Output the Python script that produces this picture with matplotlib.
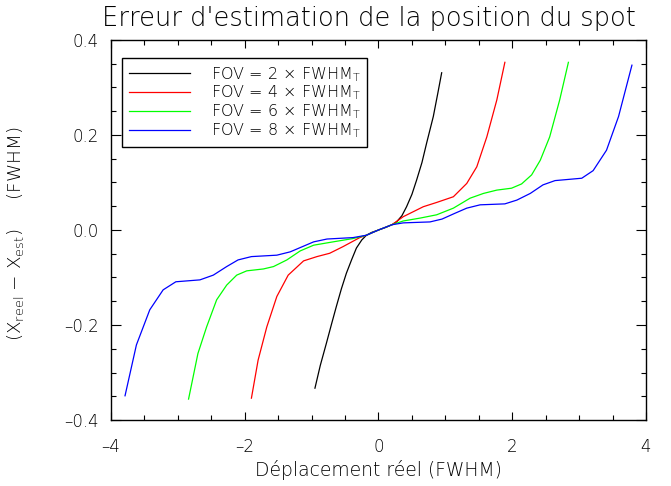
import matplotlib
matplotlib.use("Agg")
from matplotlib import pyplot as plt
from matplotlib.ticker import MultipleLocator, FuncFormatter

plt.rcParams['font.family'] = ['DejaVu Sans']
plt.rcParams['font.weight'] = 'light'
plt.rcParams['axes.labelweight'] = 'light'
plt.rcParams['mathtext.fontset'] = 'custom'
plt.rcParams['mathtext.rm'] = 'DejaVu Sans:light'
plt.rcParams['mathtext.it'] = 'DejaVu Sans:light'
plt.rcParams['mathtext.sf'] = 'DejaVu Sans:light'

# FOV = 2 x FWHM
x_fov2 = [-0.95, -0.87, -0.78, -0.7, -0.63, -0.555, -0.48, -0.4, -0.33, -0.25, -0.18, -0.1, 0.0,
          0.1, 0.2, 0.27, 0.35, 0.42, 0.5, 0.57, 0.65, 0.72, 0.82, 0.89, 0.945]
y_fov2 = [-0.333, -0.285, -0.239, -0.197, -0.161, -0.124, -0.091, -0.062, -0.038, -0.021, -0.011, -0.005, 0.0,
          0.005, 0.011, 0.017, 0.03, 0.049, 0.075, 0.105, 0.142, 0.183, 0.239, 0.29, 0.331]

# FOV = 4 x FWHM
x_fov4 = [-1.9, -1.8, -1.67, -1.52, -1.35, -1.12, -0.92, -0.73, -0.53, -0.28, -0.18, 0.0, 0.2, 0.37,
          0.67, 0.87, 1.12, 1.32, 1.47, 1.62, 1.77, 1.89]
y_fov4 = [-0.354, -0.274, -0.204, -0.14, -0.095, -0.065, -0.056, -0.049, -0.035, -0.016, -0.011, 0.0, 0.011,
          0.028, 0.049, 0.058, 0.07, 0.098, 0.133, 0.196, 0.274, 0.353]

# FOV = 6 x FWHM
x_fov6 = [-2.84, -2.7, -2.57, -2.42, -2.27, -2.12, -1.97, -1.72, -1.57, -1.37, -1.17, -0.97, -0.68, -0.38,
          -0.18, 0.0, 0.2, 0.37, 0.62, 0.87, 1.12, 1.37, 1.57, 1.77, 1.99, 2.14, 2.29, 2.42, 2.56, 2.71, 2.84]
y_fov6 = [-0.356, -0.26, -0.204, -0.147, -0.116, -0.095, -0.086, -0.082, -0.077, -0.063, -0.044, -0.032,
          -0.025, -0.018, -0.011, 0.0, 0.011, 0.019, 0.025, 0.032, 0.046, 0.067, 0.077, 0.084, 0.088, 0.097,
          0.116, 0.147, 0.196, 0.274, 0.353]

# FOV = 8 x FWHM
x_fov8 = [-3.79, -3.62, -3.42, -3.22, -3.03, -2.67, -2.47, -2.27, -2.1, -1.9, -1.52, -1.32, -0.97, -0.77,
          -0.38, -0.18, 0.0, 0.2, 0.37, 0.77, 0.95, 1.14, 1.32, 1.52, 1.89, 2.07, 2.27, 2.46, 2.64, 3.04,
          3.21, 3.41, 3.59, 3.79]
y_fov8 = [-0.349, -0.242, -0.168, -0.126, -0.109, -0.105, -0.095, -0.077, -0.063, -0.056, -0.053, -0.046,
          -0.025, -0.019, -0.016, -0.011, 0.0, 0.011, 0.015, 0.017, 0.023, 0.035, 0.046, 0.053, 0.055, 0.063,
          0.077, 0.095, 0.104, 0.109, 0.125, 0.168, 0.239, 0.347]

series = [
    (x_fov2, y_fov2, 'black', r'FOV = 2 $\times$ FWHM$_\mathrm{T}$'),
    (x_fov4, y_fov4, 'red', r'FOV = 4 $\times$ FWHM$_\mathrm{T}$'),
    (x_fov6, y_fov6, '#00ff00', r'FOV = 6 $\times$ FWHM$_\mathrm{T}$'),
    (x_fov8, y_fov8, 'blue', r'FOV = 8 $\times$ FWHM$_\mathrm{T}$'),
]

fig = plt.figure(figsize=(6.71, 4.86), dpi=100)
ax = fig.add_axes([0.1654, 0.1358, 0.7973, 0.7819])

for xs, ys, col, lab in series:
    ax.plot(xs, ys, color=col, lw=0.9, label=lab)


def dash_fmt(fmt):
    # long dash for negative tick labels
    return FuncFormatter(lambda v, pos: (fmt % v).replace('-', '\u2013'))


ax.set_xlim(-4, 4)
ax.set_ylim(-0.4, 0.4)
ax.xaxis.set_major_locator(MultipleLocator(2))
ax.xaxis.set_minor_locator(MultipleLocator(0.5))
ax.yaxis.set_major_locator(MultipleLocator(0.2))
ax.yaxis.set_minor_locator(MultipleLocator(0.05))
ax.xaxis.set_major_formatter(dash_fmt('%d'))
ax.yaxis.set_major_formatter(dash_fmt('%.1f'))
ax.tick_params(which='both', direction='in', top=True, right=True, labelsize=12, width=0.8)
ax.tick_params(axis='x', which='major', length=6, pad=13)
ax.tick_params(axis='y', which='major', length=7, pad=9)
ax.tick_params(which='minor', length=3.5)
for sp in ax.spines.values():
    sp.set_linewidth(1.0)

ax.set_xlabel('Déplacement réel (FWHM)', fontsize=13.5, labelpad=3)
ax.set_ylabel(r'(X$_\mathrm{reel}$ $-$ X$_\mathrm{est}$)     (FWHM)', fontsize=13.2)
ax.yaxis.set_label_coords(-0.158, 0.49)
fig.text(0.55, 0.962, "Erreur d'estimation de la position du spot", fontsize=18.5, ha='center', va='center')

leg = ax.legend(loc='upper left', bbox_to_anchor=(0.0206, 0.953), borderaxespad=0, fontsize=11.5,
                frameon=True, fancybox=False, edgecolor='black', framealpha=1,
                handlelength=3.8, handletextpad=1.3, labelspacing=0.0, borderpad=0.45)
leg.get_frame().set_linewidth(1.0)

fig.savefig('out.png', dpi=100)
